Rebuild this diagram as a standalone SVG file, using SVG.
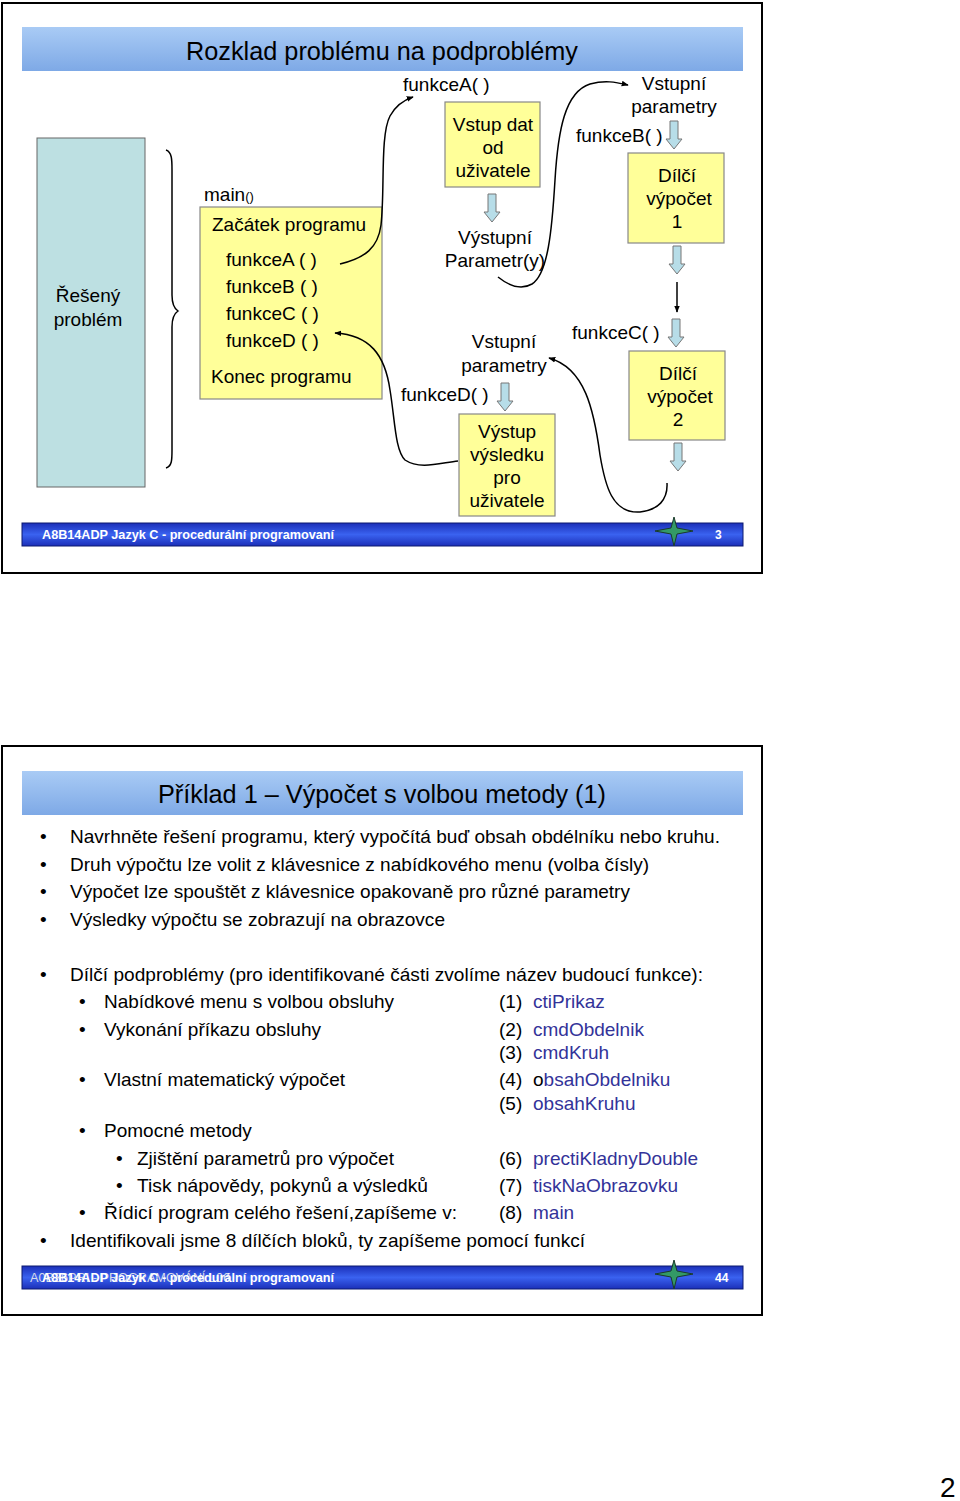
<svg xmlns="http://www.w3.org/2000/svg" width="960" height="1501" viewBox="0 0 960 1501">
<defs>
<linearGradient id="tband" x1="0" y1="0" x2="0" y2="1">
<stop offset="0" stop-color="#a9cbf5"/><stop offset="1" stop-color="#7ea9e6"/>
</linearGradient>
<linearGradient id="fband" x1="0" y1="0" x2="0" y2="1">
<stop offset="0" stop-color="#1b2fb8"/><stop offset="0.5" stop-color="#3a62f0"/><stop offset="1" stop-color="#1b2fb8"/>
</linearGradient>
<marker id="ah" viewBox="0 0 10 10" refX="9" refY="5" markerWidth="7" markerHeight="7" orient="auto" markerUnits="userSpaceOnUse">
<path d="M0,1 L10,5 L0,9 z" fill="#000"/>
</marker>
<path id="barrow" d="M-4,0 L4,0 L4,18 L8,18 L0,28 L-8,18 L-4,18 z"/>
<path id="star" d="M0,-14 L3,-3 L19,0 L3,3 L0,15 L-3,3 L-19,0 L-3,-3 z"/>
</defs>
<style>
text{font-family:"Liberation Sans",Arial,sans-serif;fill:#000}
.t{font-size:26px}
.n{font-size:19px}
.c{text-anchor:middle}
.box{fill:#ffff99;stroke:#888;stroke-width:1.2}
.ba{fill:#b7dde8;stroke:#777;stroke-width:1}
.cv{fill:none;stroke:#000;stroke-width:1.5}
.frame{fill:#fff;stroke:#000;stroke-width:2}
.ft{font-size:12px;font-weight:bold;fill:#fff}
.st{fill:#339966;stroke:#1a3a2a;stroke-width:1}
.b{font-size:19px}
.bl{fill:#333399}
</style>
<rect width="960" height="1501" fill="#fff"/>

<!-- Slide 1 -->
<g id="slide1">
<rect class="frame" x="2" y="3" width="760" height="570"/>
<rect x="22" y="27" width="721" height="44" fill="url(#tband)"/>
<text class="t" x="186" y="60" textLength="392" lengthAdjust="spacingAndGlyphs">Rozklad problému na podproblémy</text>
</g>

<g id="problem">
<rect x="37" y="138" width="108" height="349" fill="#bde0e2" stroke="#666" stroke-width="1"/>
<text class="n c" x="88" y="302">Řešený</text>
<text class="n c" x="88" y="326">problém</text>
</g>

<g id="brace">
<path class="cv" stroke-width="1.3" d="M166,150 C172,152 172,160 172,170 L172,295 C172,305 175,309 178,311 C175,313 172,317 172,327 L172,450 C172,460 172,466 166,468"/>
</g>

<g id="main">
<text class="n" x="204" y="201">main<tspan font-size="13">()</tspan></text>
<rect class="box" x="200" y="207" width="182" height="192"/>
<text class="n" x="212" y="231">Začátek programu</text>
<text class="n" x="226" y="266">funkceA ( )</text>
<text class="n" x="226" y="293">funkceB ( )</text>
<text class="n" x="226" y="320">funkceC ( )</text>
<text class="n" x="226" y="347">funkceD ( )</text>
<text class="n" x="211" y="383">Konec programu</text>
</g>

<g id="funkceA">
<text class="n" x="403" y="91">funkceA( )</text>
<rect class="box" x="445" y="102" width="95" height="85"/>
<text class="n c" x="493" y="131">Vstup dat</text>
<text class="n c" x="493" y="154">od</text>
<text class="n c" x="493" y="177">uživatele</text>
<use href="#barrow" class="ba" x="492" y="194"/>
<text class="n c" x="495" y="244">Výstupní</text>
<text class="n c" x="495" y="267">Parametr(y)</text>
</g>

<g id="funkceB">
<text class="n c" x="674" y="90">Vstupní</text>
<text class="n c" x="674" y="113">parametry</text>
<text class="n" x="576" y="142">funkceB( )</text>
<use href="#barrow" class="ba" x="674" y="121"/>
<rect class="box" x="628" y="153" width="96" height="90"/>
<text class="n c" x="677" y="182">Dílčí</text>
<text class="n c" x="679" y="205">výpočet</text>
<text class="n c" x="677" y="228">1</text>
<use href="#barrow" class="ba" x="677" y="246"/>
</g>

<g id="funkceC">
<text class="n" x="572" y="339">funkceC( )</text>
<use href="#barrow" class="ba" x="676" y="319"/>
<rect class="box" x="629" y="351" width="96" height="89"/>
<text class="n c" x="678" y="380">Dílčí</text>
<text class="n c" x="680" y="403">výpočet</text>
<text class="n c" x="678" y="426">2</text>
<use href="#barrow" class="ba" x="678" y="443"/>
</g>

<g id="funkceD">
<text class="n c" x="504" y="348">Vstupní</text>
<text class="n c" x="504" y="372">parametry</text>
<text class="n" x="401" y="401">funkceD( )</text>
<use href="#barrow" class="ba" x="505" y="383"/>
<rect class="box" x="459" y="414" width="96" height="102"/>
<text class="n c" x="507" y="438">Výstup</text>
<text class="n c" x="507" y="461">výsledku</text>
<text class="n c" x="507" y="484">pro</text>
<text class="n c" x="507" y="507">uživatele</text>
</g>

<g id="connectors">
<path class="cv" marker-end="url(#ah)" d="M340,264 C365,258 378,248 381,225 C385,190 380,135 390,116 C396,105 404,100 413,97"/>
<path class="cv" marker-end="url(#ah)" d="M498,277 C508,285 520,291 532,284 C548,274 552,230 555,180 C558,130 565,92 590,84 C605,80 615,82 628,85"/>
<path class="cv" marker-end="url(#ah)" d="M677,282 L677,312"/>
<path class="cv" marker-end="url(#ah)" d="M667,483 C668,500 658,510 640,512 C612,514 605,485 600,455 C594,410 585,368 549,358"/>
<path class="cv" marker-end="url(#ah)" d="M458,461 C440,463 420,470 405,460 C395,450 395,420 390,390 C385,355 370,335 335,333"/>
</g>

<g id="footer1">
<rect x="22" y="523" width="721" height="23" fill="url(#fband)" stroke="#0d1a70" stroke-width="1"/>
<text class="ft" x="42" y="539" textLength="292" lengthAdjust="spacingAndGlyphs">A8B14ADP Jazyk C - procedurální programovaní</text>
<text class="ft" x="715" y="539">3</text>
<use href="#star" class="st" x="674" y="531"/>
</g>

<!-- Slide 2 -->
<g id="slide2">
<rect class="frame" x="2" y="746" width="760" height="569"/>
<rect x="22" y="771" width="721" height="44" fill="url(#tband)"/>
<text class="t" x="158" y="803" textLength="448" lengthAdjust="spacingAndGlyphs">Příklad 1 – Výpočet s volbou metody (1)</text>
</g>

<g id="list">
<text class="b" x="40" y="843">•</text>
<text class="b" x="70" y="843" textLength="650" lengthAdjust="spacingAndGlyphs">Navrhněte řešení programu, který vypočítá buď obsah obdélníku nebo kruhu.</text>
<text class="b" x="40" y="871">•</text>
<text class="b" x="70" y="871" textLength="579" lengthAdjust="spacingAndGlyphs">Druh výpočtu lze volit z klávesnice z nabídkového menu (volba čísly)</text>
<text class="b" x="40" y="898">•</text>
<text class="b" x="70" y="898" textLength="560" lengthAdjust="spacingAndGlyphs">Výpočet lze spouštět z klávesnice opakovaně pro různé parametry</text>
<text class="b" x="40" y="926">•</text>
<text class="b" x="70" y="926" textLength="375" lengthAdjust="spacingAndGlyphs">Výsledky výpočtu se zobrazují na obrazovce</text>

<text class="b" x="40" y="981">•</text>
<text class="b" x="70" y="981" textLength="633" lengthAdjust="spacingAndGlyphs">Dílčí podproblémy (pro identifikované části zvolíme název budoucí funkce):</text>
<text class="b" x="79" y="1008">•</text>
<text class="b" x="104" y="1008" textLength="290" lengthAdjust="spacingAndGlyphs">Nabídkové menu s volbou obsluhy</text>
<text class="b" x="499" y="1008">(1)</text><text class="b bl" x="533" y="1008">ctiPrikaz</text>
<text class="b" x="79" y="1036">•</text>
<text class="b" x="104" y="1036" textLength="217" lengthAdjust="spacingAndGlyphs">Vykonání příkazu obsluhy</text>
<text class="b" x="499" y="1036">(2)</text><text class="b bl" x="533" y="1036">cmdObdelnik</text>
<text class="b" x="499" y="1059">(3)</text><text class="b bl" x="533" y="1059">cmdKruh</text>
<text class="b" x="79" y="1086">•</text>
<text class="b" x="104" y="1086" textLength="241" lengthAdjust="spacingAndGlyphs">Vlastní matematický výpočet</text>
<text class="b" x="499" y="1086">(4)</text><text class="b" x="533" y="1086">o<tspan class="bl">bsahObdelniku</tspan></text>
<text class="b" x="499" y="1110">(5)</text><text class="b bl" x="533" y="1110">obsahKruhu</text>
<text class="b" x="79" y="1137">•</text>
<text class="b" x="104" y="1137">Pomocné metody</text>
<text class="b" x="116" y="1165">•</text>
<text class="b" x="137" y="1165" textLength="257" lengthAdjust="spacingAndGlyphs">Zjištění parametrů pro výpočet</text>
<text class="b" x="499" y="1165">(6)</text><text class="b bl" x="533" y="1165" textLength="165" lengthAdjust="spacingAndGlyphs">prectiKladnyDouble</text>
<text class="b" x="116" y="1192">•</text>
<text class="b" x="137" y="1192" textLength="291" lengthAdjust="spacingAndGlyphs">Tisk nápovědy, pokynů a výsledků</text>
<text class="b" x="499" y="1192">(7)</text><text class="b bl" x="533" y="1192" textLength="145" lengthAdjust="spacingAndGlyphs">tiskNaObrazovku</text>
<text class="b" x="79" y="1219">•</text>
<text class="b" x="104" y="1219" textLength="353" lengthAdjust="spacingAndGlyphs">Řídicí program celého řešení,zapíšeme v:</text>
<text class="b" x="499" y="1219">(8)</text><text class="b bl" x="533" y="1219">main</text>
<text class="b" x="40" y="1247">•</text>
<text class="b" x="70" y="1247" textLength="515" lengthAdjust="spacingAndGlyphs">Identifikovali jsme 8 dílčích bloků, ty zapíšeme pomocí funkcí</text>
</g>

<g id="footer2">
<rect x="22" y="1266" width="721" height="23" fill="url(#fband)" stroke="#0d1a70" stroke-width="1"/>
<text x="30" y="1282" font-size="12" style="fill:#d8dce8" textLength="200" lengthAdjust="spacingAndGlyphs">A0B36PRI - PROGRAMOVÁNÍ L06</text>
<text class="ft" x="42" y="1282" textLength="292" lengthAdjust="spacingAndGlyphs">A8B14ADP Jazyk C - procedurální programovaní</text>
<text class="ft" x="715" y="1282">44</text>
<use href="#star" class="st" x="674" y="1274"/>
</g>

<text x="940" y="1497" font-size="28">2</text>
</svg>
